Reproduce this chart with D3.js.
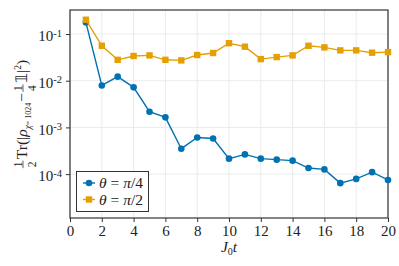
<!DOCTYPE html>
<html>
<head>
<meta charset="utf-8">
<script src="https://cdn.jsdelivr.net/npm/d3@7/dist/d3.min.js"></script>
<style>
  body { margin: 0; background: #fff; }
  svg { display: block; }
</style>
</head>
<body>
<div id="chart"></div>
<script>
const times = d3.range(1, 21);
const seriesQuarter = [0.177, 0.0079, 0.0122, 0.0072, 0.00217, 0.00164, 0.00035, 0.00061, 0.00058, 0.000214,
  0.000264, 0.000214, 0.000204, 0.000194, 0.000135, 0.000126, 0.000064, 0.000079, 0.00011, 0.000075];
const seriesHalf = [0.202, 0.056, 0.028, 0.0338, 0.0348, 0.028, 0.0272, 0.0355, 0.0392, 0.0635,
  0.0535, 0.029, 0.032, 0.0348, 0.056, 0.0517, 0.0446, 0.0446, 0.0398, 0.041];
const xTicks = [0, 2, 4, 6, 8, 10, 12, 14, 16, 18, 20];
const yTicks = [1e-1, 1e-2, 1e-3, 1e-4];
const legendLabels = ['π/4', 'π/2'];

const width = 399, height = 266;
const margin = { left: 70, right: 11, top: 10, bottom: 48 };
const blue = '#0072b2', orange = '#e69f00';
const serif = '"Liberation Serif"';

const svg = d3.select('#chart').append('svg')
  .attr('width', width).attr('height', height);

const x = d3.scaleLinear().domain([0, 20]).range([margin.left, width - margin.right]);
const y = d3.scaleLog().domain([Math.pow(10, -4.94), Math.pow(10, -0.486)])
  .range([height - margin.bottom, margin.top]);

// grid
svg.append('g').selectAll('line').data(xTicks).enter().append('line')
  .attr('x1', d => x(d)).attr('x2', d => x(d))
  .attr('y1', margin.top).attr('y2', height - margin.bottom)
  .attr('stroke', '#ebebeb').attr('stroke-width', 1);
svg.append('g').selectAll('line').data(yTicks).enter().append('line')
  .attr('x1', margin.left).attr('x2', width - margin.right)
  .attr('y1', d => y(d)).attr('y2', d => y(d))
  .attr('stroke', '#ebebeb').attr('stroke-width', 1);

// axes
const xAxis = svg.append('g')
  .attr('transform', `translate(0,${height - margin.bottom})`)
  .call(d3.axisBottom(x).tickValues(xTicks).tickSize(4).tickPadding(3).tickFormat(d3.format('d')));
const yAxis = svg.append('g')
  .attr('transform', `translate(${margin.left},0)`)
  .call(d3.axisLeft(y).tickValues(yTicks).tickSize(4).tickPadding(4).tickFormat(() => ''));

[xAxis, yAxis].forEach(a => {
  a.select('.domain').remove();
  a.selectAll('.tick line').attr('stroke', '#333');
  a.selectAll('text').attr('fill', '#222')
    .style('font-family', serif).style('font-size', '15px');
});

// y tick labels with superscripts
yAxis.selectAll('.tick text').each(function (d) {
  const t = d3.select(this);
  t.append('tspan').text('10');
  t.append('tspan').attr('dy', '-0.45em').style('font-size', '10.5px')
    .text('-' + Math.round(-Math.log10(d)));
  t.attr('dy', '0.45em');
});

// frame
svg.append('rect')
  .attr('x', margin.left).attr('y', margin.top)
  .attr('width', width - margin.left - margin.right)
  .attr('height', height - margin.top - margin.bottom)
  .attr('fill', 'none').attr('stroke', '#333').attr('stroke-width', 1.2);

// series
const line = d3.line().x((d, i) => x(times[i])).y(d => y(d));

svg.append('path').datum(seriesQuarter).attr('d', line)
  .attr('fill', 'none').attr('stroke', blue).attr('stroke-width', 1.4);
svg.append('g').selectAll('circle').data(seriesQuarter).enter().append('circle')
  .attr('cx', (d, i) => x(times[i])).attr('cy', d => y(d)).attr('r', 3.3)
  .attr('fill', blue);

svg.append('path').datum(seriesHalf).attr('d', line)
  .attr('fill', 'none').attr('stroke', orange).attr('stroke-width', 1.4);
svg.append('g').selectAll('rect').data(seriesHalf).enter().append('rect')
  .attr('x', (d, i) => x(times[i]) - 3.2).attr('y', d => y(d) - 3.2)
  .attr('width', 6.4).attr('height', 6.4)
  .attr('fill', orange);

// legend
const legend = svg.append('g');
legend.append('rect')
  .attr('x', 76.5).attr('y', 171.5).attr('width', 72).attr('height', 40)
  .attr('fill', '#fff').attr('stroke', '#333').attr('stroke-width', 1);
legendLabels.forEach((lab, i) => {
  const cy = 183 + i * 16.5;
  const col = i === 0 ? blue : orange;
  legend.append('line').attr('x1', 83).attr('x2', 95).attr('y1', cy).attr('y2', cy)
    .attr('stroke', col).attr('stroke-width', 1.4);
  if (i === 0) {
    legend.append('circle').attr('cx', 89).attr('cy', cy).attr('r', 3.3).attr('fill', col);
  } else {
    legend.append('rect').attr('x', 85.8).attr('y', cy - 3.2).attr('width', 6.4).attr('height', 6.4).attr('fill', col);
  }
  const t = legend.append('text').attr('x', 99).attr('y', cy).attr('dy', '0.35em')
    .style('font-family', serif).style('font-size', '15.5px').attr('fill', '#222');
  t.append('tspan').style('font-style', 'italic').text('θ');
  t.append('tspan').text(' = ');
  t.append('tspan').style('font-style', 'italic').text('π');
  t.append('tspan').text(lab.slice(1));
});

// x label
const xl = svg.append('text')
  .attr('x', (margin.left + width - margin.right) / 2).attr('y', 252)
  .attr('text-anchor', 'middle')
  .style('font-family', serif).style('font-size', '15.5px').attr('fill', '#222');
xl.append('tspan').style('font-style', 'italic').text('J');
xl.append('tspan').attr('dy', 3).style('font-size', '10px').text('0');
xl.append('tspan').attr('dy', -3).style('font-style', 'italic').text('t');

// y label built as a horizontal run of pieces, then rotated
const yl = svg.append('g').style('font-family', serif);
let cursor = 0;
function piece(txt, opts = {}) {
  const t = yl.append('text').attr('x', cursor).attr('y', opts.dy || 0)
    .style('font-family', serif)
    .style('font-size', (opts.size || 15.5) + 'px').attr('fill', '#222')
    .style('font-style', opts.italic ? 'italic' : 'normal').text(txt);
  cursor += t.node().getComputedTextLength() + (opts.gap || 0);
  return t;
}
function frac(num, den) {
  const w = 7.5;
  [[num, -5.5], [den, 9]].forEach(([s, dy]) => {
    yl.append('text').attr('x', cursor + w / 2).attr('y', dy).attr('text-anchor', 'middle')
      .style('font-family', serif).style('font-size', '11.5px').attr('fill', '#222').text(s);
  });
  yl.append('line').attr('x1', cursor).attr('x2', cursor + w).attr('y1', -4).attr('y2', -4)
    .attr('stroke', '#222').attr('stroke-width', 0.7);
  cursor += w + 1.5;
}
frac('1', '2');
piece('Tr(|');
piece('ρ', { italic: true });
piece('χ', { italic: true, size: 9.5, dy: 3.5 });
piece(' = 1024', { size: 8, dy: 3.5, gap: 1 });
piece(' − ', { gap: 1 });
frac('1', '4');
piece('𝟙');
piece('|');
piece('2', { size: 9.5, dy: -6 });
piece(')');
const yMid = (margin.top + height - margin.bottom) / 2;
yl.attr('transform', `translate(27,${yMid + cursor / 2}) rotate(-90)`);
</script>
</body>
</html>
